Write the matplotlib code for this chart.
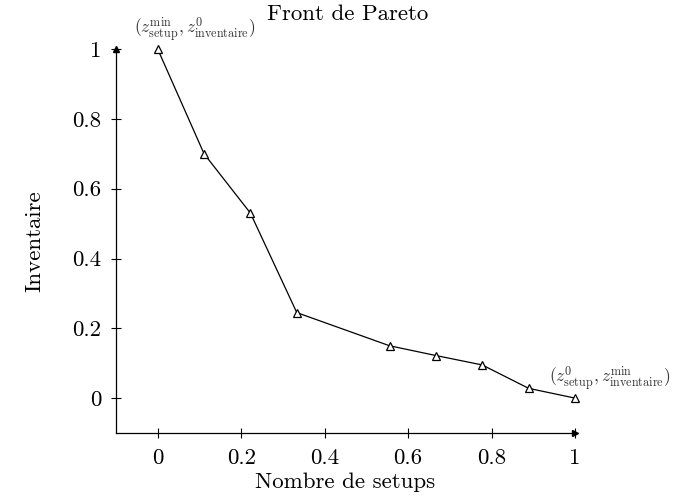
import matplotlib
matplotlib.use("Agg")
import matplotlib.pyplot as plt

# --- DATA ---
setups = [0, 1 / 9, 2 / 9, 3 / 9, 5 / 9, 6 / 9, 7 / 9, 8 / 9, 1]
inventaire = [1.0, 0.70, 0.53, 0.245, 0.15, 0.122, 0.095, 0.028, 0.0]
x_ticks = [0, 0.2, 0.4, 0.6, 0.8, 1]
y_ticks = [0, 0.2, 0.4, 0.6, 0.8, 1]
x_tick_labels = ["0", "0.2", "0.4", "0.6", "0.8", "1"]
y_tick_labels = ["0", "0.2", "0.4", "0.6", "0.8", "1"]

plt.rcParams["font.family"] = "cmr10"
plt.rcParams["mathtext.fontset"] = "cm"

FS = 16.5

fig = plt.figure(figsize=(6.92, 4.96), dpi=100)
ax = fig.add_axes([0.1676, 0.127, 0.6633, 0.774])

ax.plot(setups, inventaire, color="black", linewidth=0.9, marker="^",
        markersize=5.5, markerfacecolor="white", markeredgecolor="black",
        markeredgewidth=0.9, clip_on=False, zorder=3)

ax.set_xlim(-0.1, 1.0)
ax.set_ylim(-0.1, 1.0)
ax.set_xticks(x_ticks)
ax.set_xticklabels(x_tick_labels)
ax.set_yticks(y_ticks)
ax.set_yticklabels(y_tick_labels)
ax.tick_params(direction="inout", length=7, width=0.8, labelsize=FS)
ax.tick_params(axis="x", pad=8)
ax.tick_params(axis="y", pad=7)

for side in ("top", "right"):
    ax.spines[side].set_visible(False)
for side in ("left", "bottom"):
    ax.spines[side].set_linewidth(0.9)

# fleches au bout des axes
ax.plot(1, 0, marker=">", color="black", markersize=4, transform=ax.transAxes,
        clip_on=False)
ax.plot(0, 1, marker="^", color="black", markersize=4, transform=ax.transAxes,
        clip_on=False)

ax.set_xlabel("Nombre de setups", fontsize=FS, labelpad=3)
ax.set_ylabel("Inventaire", fontsize=FS, labelpad=20)
fig.text(0.502, 0.972, "Front de Pareto", ha="center", va="center", fontsize=FS)

ax.annotate(r"$(z^{\mathrm{min}}_{\mathrm{setup}},z^{0}_{\mathrm{inventaire}})$",
            xy=(setups[0], inventaire[0]), xytext=(27, 14),
            textcoords="offset points", ha="center", va="center",
            fontsize=12.5, color="#333333", annotation_clip=False)
ax.annotate(r"$(z^{0}_{\mathrm{setup}},z^{\mathrm{min}}_{\mathrm{inventaire}})$",
            xy=(setups[-1], inventaire[-1]), xytext=(25, 14),
            textcoords="offset points", ha="center", va="center",
            fontsize=12.5, color="#333333", annotation_clip=False)

plt.savefig("out.png", dpi=100)
plt.close()
